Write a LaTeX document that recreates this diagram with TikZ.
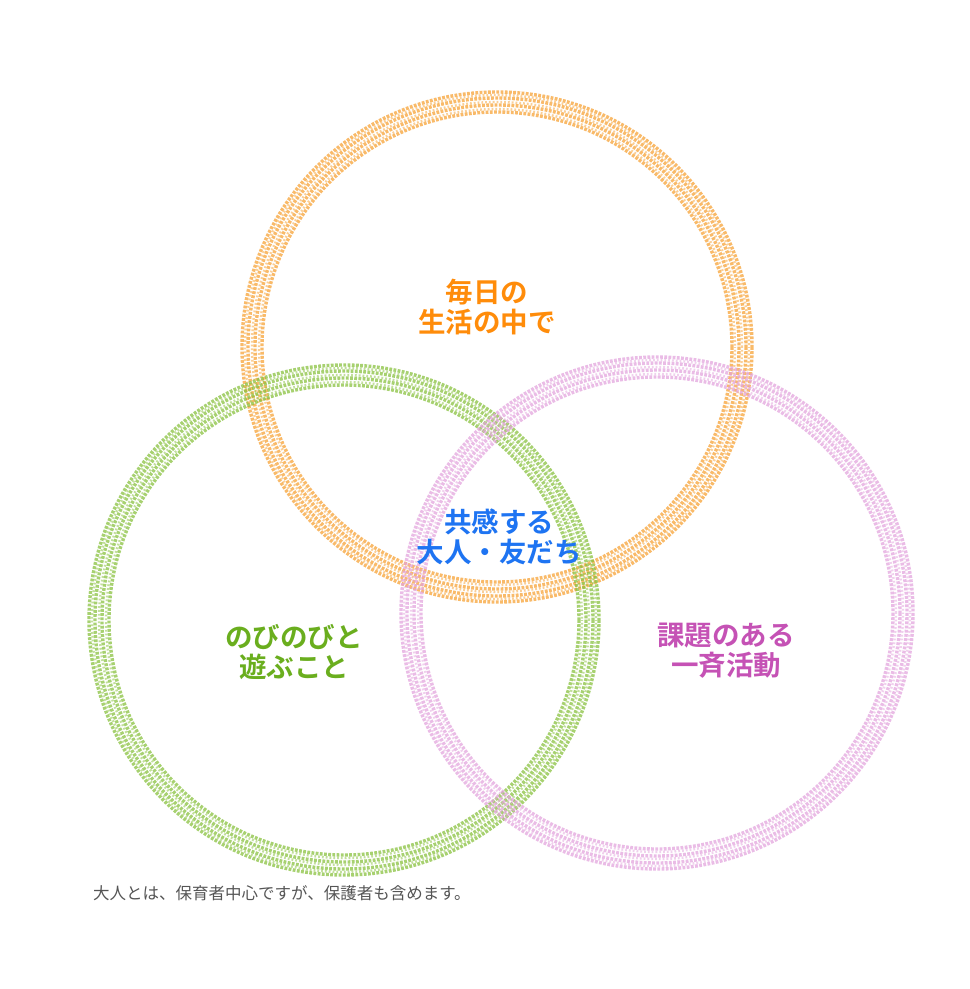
\documentclass[tikz,border=0pt]{standalone}
\usepackage{fontspec}
\newfontfamily\jp{Noto Sans CJK JP}
\newfontfamily\jpb{Noto Sans CJK JP Bold}
\definecolor{ringorange}{HTML}{F7A030}
\definecolor{ringgreen}{HTML}{86C03A}
\definecolor{ringpink}{HTML}{E3A3DD}
\definecolor{txorange}{HTML}{FF8C0A}
\definecolor{txgreen}{HTML}{6AAE1E}
\definecolor{txpink}{HTML}{C552B5}
\definecolor{txblue}{HTML}{1E74F2}
\definecolor{txgray}{HTML}{555555}
\tikzset{
  crayon/.style={line width=3.4pt, opacity=0.72, dash pattern=on 2.8pt off 1.4pt},
  crayonb/.style={line width=2.4pt, opacity=0.5, dash pattern=on 1.8pt off 2pt, dash phase=1pt},
  label/.style={font=\jpb\fontsize{27.5}{30}\selectfont, align=center, inner sep=0pt},
  note/.style={font=\jp\fontsize{16.5}{18}\selectfont, text=txgray, anchor=west, inner sep=0pt}
}
\newcommand{\crayonring}[4]{%
  \foreach \dr in {-10,-3,4,10} {
    \draw[crayon, #4] (#1,#2) circle[radius=#3+\dr];
  }
  \foreach \dr in {-7,0,7} {
    \draw[crayonb, #4] (#1,#2) circle[radius=#3+\dr];
  }
}
\begin{document}
\begin{tikzpicture}[x=1pt,y=-1pt]
\useasboundingbox (0,0) rectangle (970,989);
\fill[white] (0,0) rectangle (970,989);
\crayonring{497}{347}{245}{ringorange}
\crayonring{344}{620}{245}{ringgreen}
\crayonring{657}{613}{246}{ringpink}
\node[label, text=txorange] (daily) at (487,307) {毎日の\\生活の中で};
\node[label, text=txblue] (center) at (499,537) {共感する\\大人・友だち};
\node[label, text=txgreen] (play) at (294,652) {のびのびと\\遊ぶこと};
\node[label, text=txpink] (task) at (726,651) {課題のある\\一斉活動};
\node[note] (footnote) at (93,893) {大人とは、保育者中心ですが、保護者も含めます。};
\end{tikzpicture}
\end{document}
